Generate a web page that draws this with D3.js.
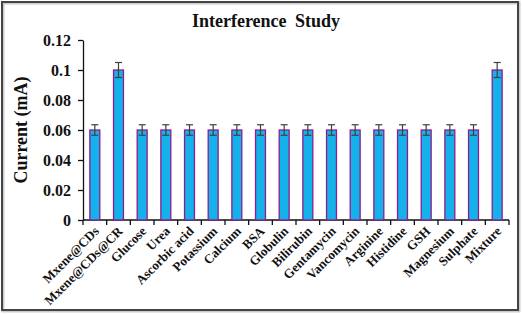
<!DOCTYPE html>
<html>
<head>
<meta charset="utf-8">
<script src="https://cdn.jsdelivr.net/npm/d3@7"></script>
<style>
  body { margin: 0; background: #fff; }
  text { font-family: "Liberation Serif", "Times New Roman", serif; font-weight: bold; fill: #111; }
</style>
</head>
<body>
<script>
const categories = ['Mxene@CDs', 'Mxene@CDs@CR', 'Glucose', 'Urea', 'Ascorbic acid', 'Potassium',
    'Calcium', 'BSA', 'Globulin', 'Bilirubin', 'Gentamycin', 'Vancomycin', 'Arginine',
    'Histidine', 'GSH', 'Magnesium', 'Sulphate', 'Mixture'];
const currents = [0.06, 0.1, 0.06, 0.06, 0.06, 0.06, 0.06, 0.06, 0.06, 0.06, 0.06, 0.06, 0.06,
    0.06, 0.06, 0.06, 0.06, 0.1];
const errors = [0.0035, 0.005, 0.0035, 0.0035, 0.0035, 0.0035, 0.0035, 0.0035, 0.0035, 0.0035,
    0.0035, 0.0035, 0.0035, 0.0035, 0.0035, 0.0035, 0.0035, 0.005];
const yTicks = [0, 0.02, 0.04, 0.06, 0.08, 0.1, 0.12];

const width = 522;
const height = 315;
const margin = { top: 40, right: 13, bottom: 95, left: 83 };

const data = categories.map((c, i) => ({ name: c, value: currents[i], err: errors[i] }));

const svg = d3.select('body').append('svg')
    .attr('width', width)
    .attr('height', height);

// outer frame
svg.append('rect')
    .attr('x', 3).attr('y', 3)
    .attr('width', 516).attr('height', 308)
    .attr('fill', 'none')
    .attr('stroke', '#ccc')
    .attr('stroke-width', 3);
svg.append('rect')
    .attr('x', 2).attr('y', 2)
    .attr('width', 516).attr('height', 308)
    .attr('fill', 'none')
    .attr('stroke', '#444')
    .attr('stroke-width', 2);

const x = d3.scaleBand()
    .domain(categories)
    .range([margin.left, width - margin.right])
    .paddingInner(0.58)
    .paddingOuter(0.29);

const y = d3.scaleLinear()
    .domain([0, 0.12])
    .range([height - margin.bottom, margin.top]);

// title
svg.append('text')
    .attr('x', 266)
    .attr('y', 27)
    .attr('text-anchor', 'middle')
    .style('font-size', '18px')
    .style('word-spacing', '4px')
    .text('Interference Study');

// y axis
const yAxis = svg.append('g')
    .attr('transform', `translate(${margin.left},0)`)
    .call(d3.axisLeft(y).tickValues(yTicks).tickSize(5).tickSizeOuter(0)
        .tickFormat(d => d3.format('')(+d.toFixed(2))));
yAxis.selectAll('text').style('font-size', '16px').attr('x', -12);
yAxis.selectAll('line, path').attr('stroke', '#111').attr('stroke-width', 1.3);

svg.append('text')
    .attr('transform', `translate(27,${(margin.top + height - margin.bottom) / 2}) rotate(-90)`)
    .attr('text-anchor', 'middle')
    .style('font-size', '18px')
    .text('Current (mA)');

// x axis: ticks at band boundaries
const x0 = height - margin.bottom;
const step = x.step();
const bounds = d3.range(categories.length + 1).map(i => margin.left + i * step);
svg.append('line')
    .attr('x1', margin.left).attr('x2', width - margin.right)
    .attr('y1', x0).attr('y2', x0)
    .attr('stroke', '#111').attr('stroke-width', 1.3);
svg.append('g').selectAll('line')
    .data(bounds)
    .enter().append('line')
    .attr('x1', d => d).attr('x2', d => d)
    .attr('y1', x0).attr('y2', x0 + 5)
    .attr('stroke', '#111').attr('stroke-width', 1.3);

// bars
svg.append('g').selectAll('rect')
    .data(data)
    .enter().append('rect')
    .attr('x', d => x(d.name))
    .attr('y', d => y(d.value))
    .attr('width', x.bandwidth())
    .attr('height', d => y(0) - y(d.value))
    .attr('fill', '#14b1ea')
    .attr('stroke', '#8e1c8c')
    .attr('stroke-width', 1.3);

// error bars
const eb = svg.append('g').attr('stroke', '#404040').attr('stroke-width', 1.2);
data.forEach(d => {
    const cx = x(d.name) + x.bandwidth() / 2;
    eb.append('line').attr('x1', cx).attr('x2', cx)
        .attr('y1', y(d.value + d.err)).attr('y2', y(d.value - d.err));
    [d.value + d.err, d.value - d.err].forEach(v => {
        eb.append('line').attr('x1', cx - 3.5).attr('x2', cx + 3.5)
            .attr('y1', y(v)).attr('y2', y(v));
    });
});

// rotated category labels
svg.append('g').selectAll('text')
    .data(categories)
    .enter().append('text')
    .attr('transform', d => `translate(${x(d) + x.bandwidth() / 2 + 5},${x0 + 12}) rotate(-45)`)
    .attr('text-anchor', 'end')
    .style('font-size', '13px')
    .text(d => d);
</script>
</body>
</html>
